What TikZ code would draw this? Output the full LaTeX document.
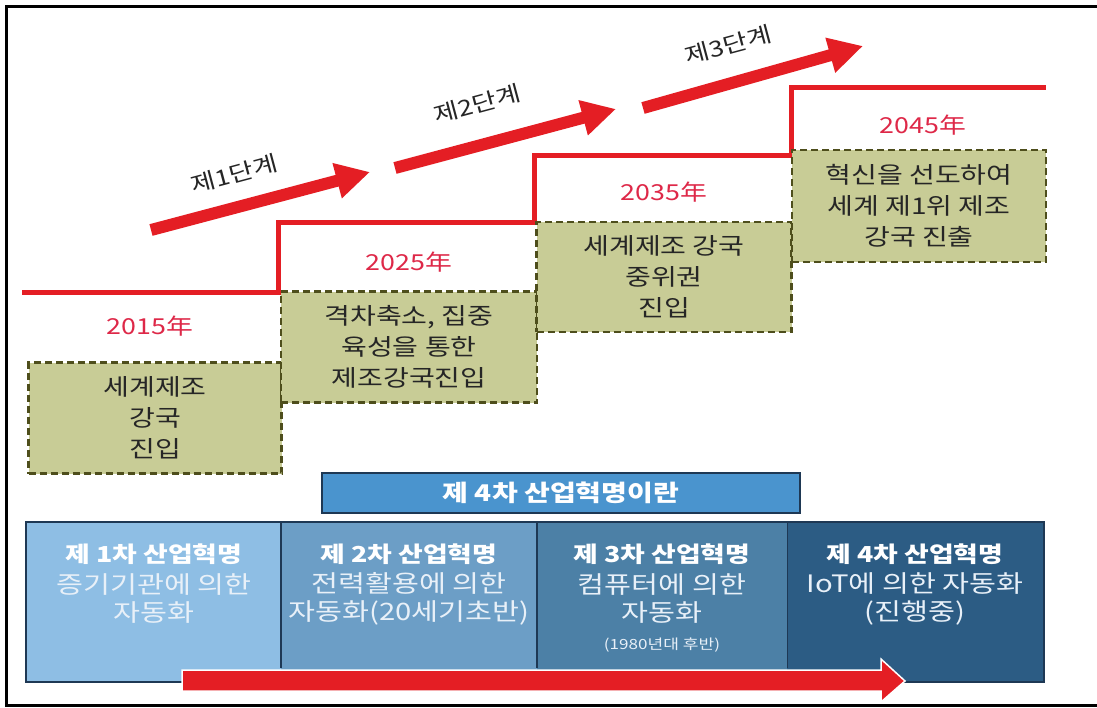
\documentclass[tikz,border=0pt]{standalone}
\usepackage{fontspec}
\setmainfont{Noto Sans CJK KR}[FakeStretch=1.22]
\usetikzlibrary{arrows.meta}
\definecolor{stepred}{RGB}{228,30,36}
\definecolor{yearred}{RGB}{222,40,72}
\definecolor{boxfill}{RGB}{200,204,150}
\definecolor{boxline}{RGB}{78,78,28}
\definecolor{navy}{RGB}{30,56,84}
\definecolor{hdr}{RGB}{74,148,206}
\definecolor{pone}{RGB}{142,190,228}
\definecolor{ptwo}{RGB}{108,158,198}
\definecolor{pthree}{RGB}{76,128,166}
\definecolor{pfour}{RGB}{44,92,132}
\definecolor{subtxt}{RGB}{232,240,248}
\begin{document}
\begin{tikzpicture}[x=1pt,y=-1pt,
  dbox/.style={draw=boxline,fill=boxfill,line width=2.6pt,dash pattern=on 7pt off 4pt},
  boxtext/.style={align=center,font=\fontsize{23}{31}\selectfont,text=black!85},
  yeartext/.style={text=yearred,font=\fontsize{22}{24}\selectfont},
  stagetext/.style={text=black!85,font=\fontsize{22}{24}\selectfont,rotate=15},
  stagearrow/.style={draw=stepred,line width=12pt,-{Triangle[width=34pt,length=34pt]}},
  steppath/.style={draw=stepred,line width=5pt},
  ptitle/.style={text=white,font=\bfseries\fontsize{22}{28}\selectfont},
  psub/.style={text=subtxt,align=center,font=\fontsize{24}{28}\selectfont}
]
\useasboundingbox (0,0) rectangle (1097,707);
\fill[white] (0,0) rectangle (1097,707);
% frame
\draw[line width=3pt,black] (1100,6) -- (6,6) -- (6,705) -- (1100,705);

% red step line
\coordinate (s0) at (22,292);
\coordinate (s1) at (278,292);
\coordinate (s2) at (278,222);
\coordinate (s3) at (534,222);
\coordinate (s4) at (534,155);
\coordinate (s5) at (791,155);
\coordinate (s6) at (791,87);
\coordinate (s7) at (1046,87);
\draw[steppath] (s0) -- (s1) -- (s2) -- (s3) -- (s4) -- (s5) -- (s6) -- (s7);

% dashed boxes
\node[dbox,minimum width=253pt,minimum height=111pt] (b1) at (155,418) {};
\node[dbox,minimum width=256pt,minimum height=111pt] (b2) at (409,347) {};
\node[dbox,minimum width=255pt,minimum height=110pt] (b3) at (664,277) {};
\node[dbox,minimum width=254pt,minimum height=112pt] (b4) at (919,206) {};
\node[boxtext] (t1) at (b1) {세계제조\\강국\\진입};
\node[boxtext] (t2) at (b2) {격차축소, 집중\\육성을 통한\\제조강국진입};
\node[boxtext] (t3) at (b3) {세계제조 강국\\중위권\\진입};
\node[boxtext] (t4) at (b4) {혁신을 선도하여\\세계 제1위 제조\\강국 진출};

% years
\node[yeartext] (y1) at (150,326) {2015年};
\node[yeartext] (y2) at (409,262) {2025年};
\node[yeartext] (y3) at (664,192) {2035年};
\node[yeartext] (y4) at (923,125) {2045年};

% stage arrows
\coordinate (a1s) at (151,230); \coordinate (a1e) at (370,172);
\coordinate (a2s) at (395,168); \coordinate (a2e) at (616,109);
\coordinate (a3s) at (643,108); \coordinate (a3e) at (863,46);
\draw[stagearrow] (a1s) -- (a1e);
\draw[stagearrow] (a2s) -- (a2e);
\draw[stagearrow] (a3s) -- (a3e);
\node[stagetext] (l1) at (234,174) {제1단계};
\node[stagetext] (l2) at (477,104) {제2단계};
\node[stagetext] (l3) at (728,45) {제3단계};

% header box
\node[draw=navy,fill=hdr,line width=2.6pt,minimum width=478pt,minimum height=40pt,
  text=white,font=\bfseries\fontsize{23}{24}\selectfont] (hd) at (561,493) {제 4차 산업혁명이란};

% panels
\fill[pone] (26,522) rectangle (281,682);
\fill[ptwo] (281,522) rectangle (537,682);
\fill[pthree] (537,522) rectangle (787,682);
\fill[pfour] (787,522) rectangle (1044,682);
\draw[navy,line width=2.6pt] (26,522) rectangle (1044,682);
\draw[navy,line width=2pt] (281,522) -- (281,668);
\draw[navy,line width=2pt] (537,522) -- (537,668);
\draw[navy,line width=1pt] (787,522) -- (787,668);

\node[ptitle] (p1t) at (154,554) {제 1차 산업혁명};
\node[psub] (p1s) at (154,599) {증기기관에 의한\\자동화};
\node[ptitle] (p2t) at (409,554) {제 2차 산업혁명};
\node[psub] (p2s) at (409,599) {전력활용에 의한\\자동화(20세기초반)};
\node[ptitle] (p3t) at (662,554) {제 3차 산업혁명};
\node[psub] (p3s) at (662,599) {컴퓨터에 의한\\자동화};
\node[text=subtxt,font=\fontsize{14}{16}\selectfont] (p3n) at (662,645) {(1980년대 후반)};
\node[ptitle] (p4t) at (915,554) {제 4차 산업혁명};
\node[psub] (p4s) at (915,599) {IoT에 의한 자동화\\(진행중)};

% bottom arrow
\coordinate (ba1) at (182,670);
\coordinate (ba2) at (881,670);
\coordinate (ba3) at (881,659);
\coordinate (ba4) at (905,681);
\coordinate (ba5) at (881,702);
\coordinate (ba6) at (881,691);
\coordinate (ba7) at (182,691);
\filldraw[fill=stepred,draw=white,line width=1.5pt] (ba1) -- (ba2) -- (ba3) -- (ba4) -- (ba5) -- (ba6) -- (ba7) -- cycle;
\end{tikzpicture}
\end{document}
